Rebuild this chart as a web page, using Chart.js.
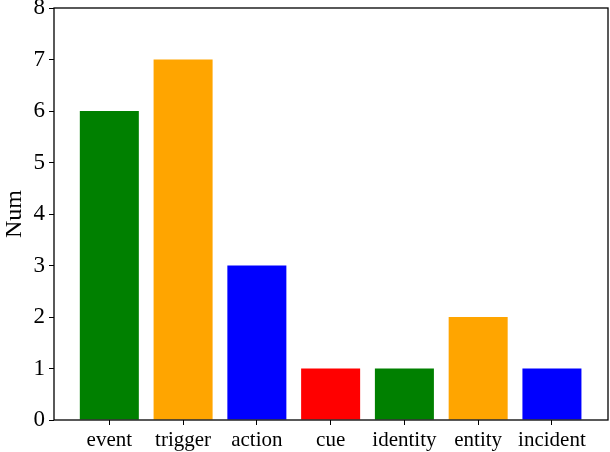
<!DOCTYPE html>
<html>
<head>
<meta charset="utf-8">
<script src="https://cdn.jsdelivr.net/npm/chart.js@4.4.0/dist/chart.umd.min.js"></script>
<style>
  body { margin: 0; background: #fff; }
  canvas { display: block; }
</style>
</head>
<body>
<canvas id="myChart" width="610" height="452"></canvas>
<script>
const categories = ['event', 'trigger', 'action', 'cue', 'identity', 'entity', 'incident']
const counts = [6, 7, 3, 1, 1, 2, 1]
const barColors = ['green', 'orange', 'blue', 'red', 'green', 'orange', 'blue']
const yTicks = [0, 1, 2, 3, 4, 5, 6, 7, 8]

let points = []
for (let i = 0; i < categories.length; i++) {
    points.push({ x: i, y: counts[i] })
}

// box around the plot, like matplotlib's spines
const frame = {
    id: 'frame',
    afterDraw(chart) {
        const a = chart.chartArea
        const c = chart.ctx
        c.save()
        c.strokeStyle = '#000'
        c.lineWidth = 1.3
        c.strokeRect(a.left, a.top, a.right - a.left, a.bottom - a.top)
        c.restore()
    }
}

const serif = 'Liberation Serif'

let chart = new Chart(document.getElementById('myChart').getContext('2d'), {
    type: 'bar',
    data: {
        datasets: [{
            data: points,
            backgroundColor: barColors,
            barPercentage: 0.8,
            categoryPercentage: 1
        }]
    },
    plugins: [frame],
    options: {
        responsive: false,
        animation: false,
        layout: { padding: { left: 0, top: 8, right: 2, bottom: 0 } },
        plugins: {
            legend: { display: false },
            tooltip: { enabled: false }
        },
        scales: {
            x: {
                type: 'linear',
                offset: false,
                min: -0.75,
                max: 6.76,
                afterBuildTicks: axis => { axis.ticks = categories.map((c, i) => ({ value: i })) },
                afterFit: axis => {
                    axis.height = 32
                    axis.paddingLeft = 0
                    axis.paddingRight = 0
                },
                grid: { offset: false, drawOnChartArea: false, color: '#000', tickLength: 5, lineWidth: 1 },
                border: { display: false },
                ticks: {
                    callback: v => categories[v],
                    color: '#000',
                    padding: 3,
                    maxRotation: 0,
                    autoSkip: false,
                    font: { family: serif, size: 21 }
                }
            },
            y: {
                min: 0,
                max: 8,
                afterBuildTicks: axis => { axis.ticks = yTicks.map(v => ({ value: v })) },
                afterFit: axis => {
                    axis.width = 54
                    axis.paddingTop = 0
                    axis.paddingBottom = 0
                },
                grid: { drawOnChartArea: false, color: '#000', tickLength: 5, lineWidth: 1 },
                border: { display: false },
                title: {
                    display: true,
                    text: 'Num',
                    color: '#000',
                    padding: 0,
                    font: { family: serif, size: 24 }
                },
                ticks: {
                    color: '#000',
                    padding: 4,
                    font: { family: serif, size: 23 }
                }
            }
        }
    }
})
</script>
</body>
</html>
